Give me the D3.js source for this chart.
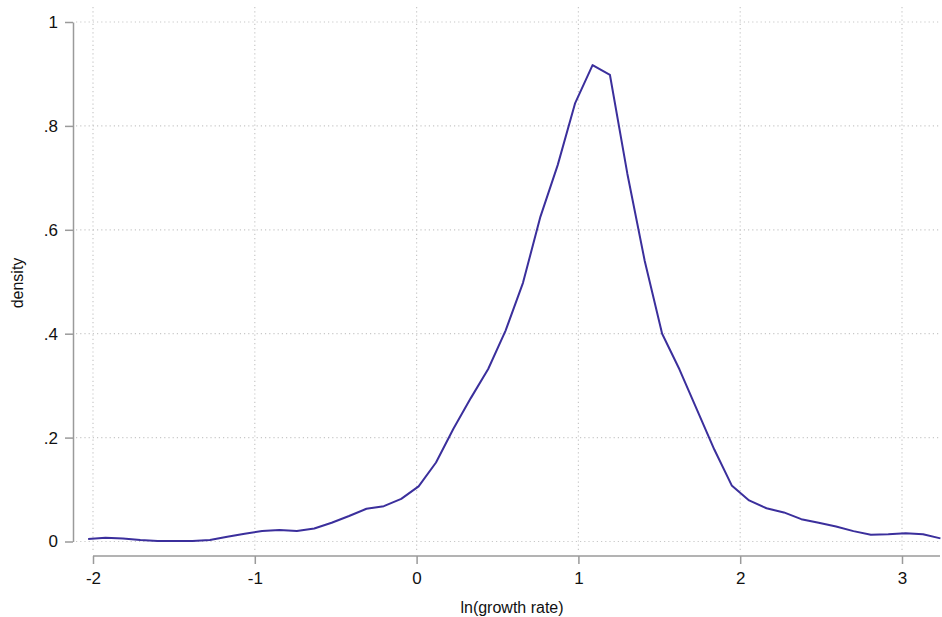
<!DOCTYPE html>
<html>
<head>
<meta charset="utf-8">
<script src="https://cdn.jsdelivr.net/npm/d3@7"></script>
<style>
  body { margin: 0; background: #fff; }
  text { font-family: "Liberation Sans", Arial, Helvetica, sans-serif; fill: #111; }
</style>
</head>
<body>
<div class="svg-container"></div>
<script>
// kernel density estimate, 50 evaluation points
const xStart = -2.03;
const xStep = 0.1075;
const density = [
    0.005, 0.007, 0.006, 0.003, 0.001, 0.001, 0.001, 0.003, 0.009, 0.015,
    0.020, 0.022, 0.020, 0.025, 0.036, 0.049, 0.063, 0.068, 0.082, 0.106,
    0.152, 0.217, 0.276, 0.332, 0.406, 0.498, 0.625, 0.725, 0.844, 0.917,
    0.898, 0.708, 0.540, 0.400, 0.331, 0.254, 0.177, 0.108, 0.079, 0.064,
    0.056, 0.043, 0.036, 0.029, 0.020, 0.013, 0.014, 0.016, 0.014, 0.006
];
const xTicks = [-2, -1, 0, 1, 2, 3];
const xTickLabels = ['-2', '-1', '0', '1', '2', '3'];
const yTicks = [0, 0.2, 0.4, 0.6, 0.8, 1];
const yTickLabels = ['0', '.2', '.4', '.6', '.8', '1'];

const width = 942;
const height = 617;
const points = density.map((d, i) => ({ x: xStart + i * xStep, y: d }));

const svg = d3.select('.svg-container')
    .append('svg')
    .attr('width', width)
    .attr('height', height);

const x = d3.scaleLinear().domain([-2, 3]).range([93, 902]);
const y = d3.scaleLinear().domain([0, 1]).range([541.5, 22]);

// grid
const grid = svg.append('g')
    .attr('stroke', '#c8c8c8')
    .attr('stroke-width', 1.2)
    .attr('stroke-dasharray', '1.2,3');
grid.selectAll('.hgrid')
    .data(yTicks)
    .enter()
    .append('line')
    .attr('x1', 76).attr('x2', 940)
    .attr('y1', (d) => y(d)).attr('y2', (d) => y(d));
grid.selectAll('.vgrid')
    .data(xTicks)
    .enter()
    .append('line')
    .attr('x1', (d) => x(d)).attr('x2', (d) => x(d))
    .attr('y1', 7).attr('y2', 550);

// y axis
const yAxis = svg.append('g')
    .attr('transform', 'translate(73,0)')
    .call(d3.axisLeft(y).tickValues(yTicks).tickFormat((d, i) => yTickLabels[i]).tickSize(8).tickPadding(7).tickSizeOuter(0));
yAxis.select('.domain').attr('stroke', '#9a9a9a').attr('stroke-width', 1.5);
yAxis.selectAll('.tick line').attr('stroke', '#9a9a9a').attr('stroke-width', 1.5);
yAxis.selectAll('.tick text').style('font-size', '17px').attr('fill', '#111');

// x axis
const xAxis = svg.append('g')
    .attr('transform', 'translate(0,556)')
    .call(d3.axisBottom(x).tickValues(xTicks).tickFormat((d, i) => xTickLabels[i]).tickSize(8).tickPadding(8).tickSizeOuter(0));
xAxis.select('.domain').attr('d', `M${x(-2)},0H940`).attr('stroke', '#9a9a9a').attr('stroke-width', 1.5);
xAxis.selectAll('.tick line').attr('stroke', '#9a9a9a').attr('stroke-width', 1.5);
xAxis.selectAll('.tick text').style('font-size', '17px').attr('fill', '#111');

// axis titles
svg.append('text')
    .attr('transform', 'translate(23,283) rotate(-90)')
    .attr('text-anchor', 'middle')
    .style('font-size', '16px')
    .text('density');
svg.append('text')
    .attr('x', 512)
    .attr('y', 613)
    .attr('text-anchor', 'middle')
    .style('font-size', '16px')
    .text('ln(growth rate)');

// density line
const line = d3.line().x((d) => x(d.x)).y((d) => y(d.y));
svg.append('path')
    .datum(points)
    .attr('fill', 'none')
    .attr('stroke', '#3b2f9c')
    .attr('stroke-width', 2)
    .attr('stroke-linejoin', 'round')
    .attr('d', line);
</script>
</body>
</html>
